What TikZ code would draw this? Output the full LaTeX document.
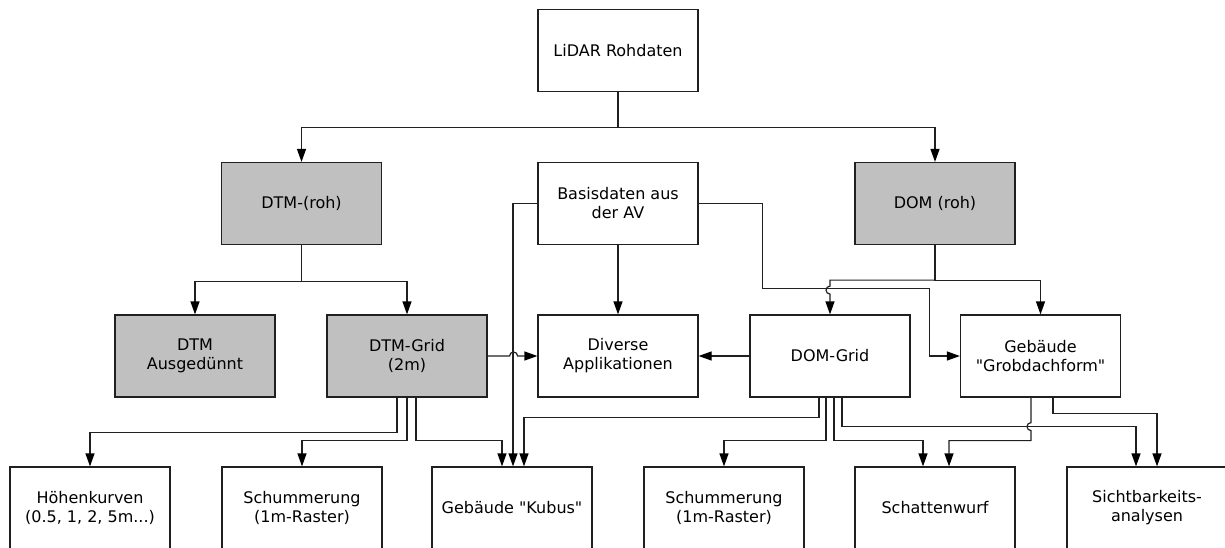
\documentclass[tikz,border=0pt]{standalone}
\usepackage{fontspec}
\setmainfont{DejaVu Sans}
\usepackage{xcolor}
\usetikzlibrary{arrows.meta}
\definecolor{linegray}{HTML}{202020}
\definecolor{boxgray}{HTML}{C0C0C0}

\begin{document}
\begin{tikzpicture}[x=1pt, y=-1pt,
        box/.style={draw=linegray, line width=1.2pt, fill=white, minimum width=160pt, minimum height=82pt,
            inner sep=0pt, align=center, font=\fontsize{16}{19}\selectfont},
        rawbox/.style={box, fill=boxgray},
        link/.style={draw=linegray, line width=1.2pt},
        arr/.style={link, -{Triangle[length=13pt, width=9pt, color=black]}}]
    \useasboundingbox (0,0) rectangle (1225,547);

    % Rohdaten und Zwischenprodukte
    \node[box]    (lidar)    at (618,50.5)  {LiDAR Rohdaten};
    \node[rawbox] (dtmroh)   at (301.5,203.5) {DTM-(roh)};
    \node[box]    (basis)    at (618,203.5) {Basisdaten aus\\der AV};
    \node[rawbox] (domroh)   at (935,203.5) {DOM (roh)};
    \node[rawbox] (dtmaus)   at (195,356)   {DTM\\Ausgedünnt};
    \node[rawbox] (dtmgrid)  at (407,356)   {DTM-Grid\\(2m)};
    \node[box]    (diverse)  at (618,356)   {Diverse\\Applikationen};
    \node[box]    (domgrid)  at (830,356)   {DOM-Grid};
    \node[box]    (grobdach) at (1040.5,356) {Gebäude\\\textquotedbl Grobdachform\textquotedbl};

    % Produkte
    \foreach \name/\x/\txt in {hoehen/90/{Höhenkurven\\(0.5, 1, 2, 5m...)},
                               schumA/302/{Schummerung\\(1m-Raster)},
                               kubus/512/{Gebäude \textquotedbl Kubus\textquotedbl},
                               schumB/724/{Schummerung\\(1m-Raster)},
                               schatten/935/{Schattenwurf},
                               sicht/1147/{Sichtbarkeits-\\analysen}} {
        \node[box] (\name) at (\x,508) {\txt};
    }

    % Verbindungen
    \draw[arr] (lidar.south) -- ++(0,35) -| (dtmroh.north);
    \draw[arr] (lidar.south) -- ++(0,35) -| (domroh.north);
    \draw[arr] (dtmroh.south) -- ++(0,36) -| (dtmaus.north);
    \draw[arr] (dtmroh.south) -- ++(0,36) -| (dtmgrid.north);
    \draw[arr] (basis.south) -- (diverse.north);
    \draw[arr] (basis.west) -- ++(-25,0) -| ([xshift=1pt]kubus.north);
    \draw[arr] (dtmgrid.east) -- ++(22,0) arc[start angle=180, end angle=360, radius=4] -- (diverse.west);
    \draw[arr] (domgrid.west) -- (diverse.east);
    \draw[arr] (basis.east) -- ++(64,0) -- ++(0,85) -- ++(167,0) |- (grobdach.west);
    \draw[arr] (domroh.south) -- ++(0,35) -| (grobdach.north);
    \draw[arr] (domroh.south) -- ++(0,35) -| ++(-105,6)
        arc[start angle=270, end angle=90, radius=4] -- (domgrid.north);

    \draw[arr] ([xshift=-10pt]dtmgrid.south) -- ++(0,35) -| (hoehen.north);
    \draw[arr] (dtmgrid.south) -- ++(0,43) -| (schumA.north);
    \draw[arr] ([xshift=9pt]dtmgrid.south) -- ++(0,43) -| ([xshift=-10pt]kubus.north);

    \draw[arr] ([xshift=-11pt]domgrid.south) -- ++(0,20) -| ([xshift=12pt]kubus.north);
    \draw[arr] ([xshift=-4pt]domgrid.south) -- ++(0,43) -| (schumB.north);
    \draw[arr] ([xshift=4pt]domgrid.south) -- ++(0,43) -| ([xshift=-12pt]schatten.north);
    \draw[arr] ([xshift=12pt]domgrid.south) -- ++(0,29) -| ([xshift=-11pt]sicht.north);

    \draw[arr] ([xshift=-9.5pt]grobdach.south) -- ++(0,25)
        arc[start angle=270, end angle=90, radius=4] -- ++(0,10) -| ([xshift=14pt]schatten.north);
    \draw[arr] ([xshift=12.5pt]grobdach.south) -- ++(0,16) -| ([xshift=10pt]sicht.north);
\end{tikzpicture}
\end{document}
